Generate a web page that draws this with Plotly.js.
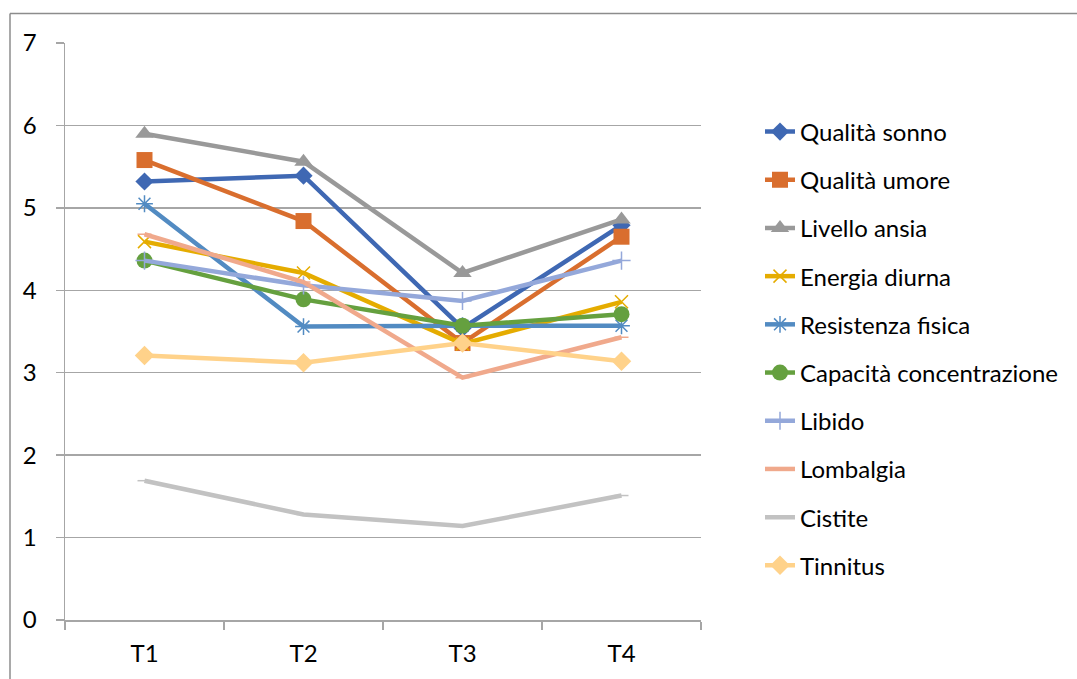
<!DOCTYPE html>
<html>
<head>
<meta charset="utf-8">
<script src="https://cdn.plot.ly/plotly-3.0.1.min.js"></script>
<style>html,body{margin:0;padding:0;background:#fff;}#chart{width:1077px;height:679px;}</style>
</head>
<body>
<div id="chart"></div>
<script>
const categories = ["T1", "T2", "T3", "T4"];
const seriesNames = ["Qualità sonno", "Qualità umore", "Livello ansia", "Energia diurna", "Resistenza fisica", "Capacità concentrazione", "Libido", "Lombalgia", "Cistite", "Tinnitus"];
const qualitaSonno = [5.32, 5.39, 3.54, 4.79];
const qualitaUmore = [5.58, 4.84, 3.36, 4.65];
const livelloAnsia = [5.90, 5.56, 4.21, 4.86];
const energiaDiurna = [4.59, 4.21, 3.35, 3.86];
const resistenzaFisica = [5.05, 3.56, 3.57, 3.57];
const capacitaConcentrazione = [4.36, 3.89, 3.57, 3.71];
const libido = [4.36, 4.06, 3.87, 4.36];
const lombalgia = [4.68, 4.10, 2.94, 3.43];
const cistite = [1.69, 1.28, 1.14, 1.51];
const tinnitus = [3.21, 3.12, 3.36, 3.14];
const yTicks = [0, 1, 2, 3, 4, 5, 6, 7];

const seriesValues = [qualitaSonno, qualitaUmore, livelloAnsia, energiaDiurna, resistenzaFisica, capacitaConcentrazione, libido, lombalgia, cistite, tinnitus];
const colors = ["#3F68B3", "#D96E2E", "#999999", "#E5AC00", "#528BC2", "#65A03F", "#94A8DA", "#F0A98C", "#C2C2C2", "#FFD28A"];
const markers = [
  {symbol: "diamond", size: 14},
  {symbol: "square", size: 16},
  {symbol: "triangle-up", size: 16},
  {symbol: "x-thin", size: 13, open: true},
  {symbol: "asterisk", size: 14, open: true},
  {symbol: "circle", size: 16},
  {symbol: "cross-thin", size: 13, open: true},
  {symbol: "line-ew", size: 10, open: true},
  {symbol: "line-ew", size: 10, open: true},
  {symbol: "diamond", size: 15}
];

const traces = seriesNames.map((name, i) => {
  const m = markers[i];
  const marker = {symbol: m.symbol, size: m.size, color: colors[i]};
  if (m.open) marker.line = {color: colors[i], width: 1.5};
  return {
    type: "scatter",
    mode: "lines+markers",
    name: name,
    x: categories,
    y: seriesValues[i],
    line: {color: colors[i], width: 4.5},
    marker: marker,
    legendgroup: "g" + i
  };
});

const L = 65, R = 701, T = 42.5, B = 620, W = 1077, H = 679;
const pw = R - L, ph = B - T;
const px = v => (v - L) / pw;
const py = v => (B - v) / ph;

const layout = {
  width: W, height: H,
  margin: {l: L, r: W - R, t: T, b: H - B, pad: 0},
  paper_bgcolor: "#ffffff",
  plot_bgcolor: "#ffffff",
  font: {family: "Lato, 'Open Sans', sans-serif", size: 24, color: "#000000"},
  showlegend: true,
  legend: {
    x: px(760), y: py(109), xanchor: "left", yanchor: "top",
    font: {size: 24, color: "#000000"},
    tracegroupgap: 14,
    bgcolor: "rgba(0,0,0,0)"
  },
  xaxis: {
    type: "category",
    range: [-0.5, 3.5],
    showgrid: false,
    showline: true, linecolor: "#A6A6A6", linewidth: 1.5,
    ticks: "outside", ticklen: 8, tickcolor: "#A6A6A6", tickwidth: 1.5,
    tickson: "boundaries",
    ticklabelstandoff: 12,
    tickfont: {size: 24},
    zeroline: false,
    fixedrange: true
  },
  yaxis: {
    range: [0, 7],
    tickvals: yTicks,
    ticktext: yTicks.map(String),
    showgrid: true, gridcolor: "#A6A6A6", gridwidth: 1.5,
    showline: true, linecolor: "#A6A6A6", linewidth: 1.5,
    ticks: "outside", ticklen: 8, tickcolor: "#A6A6A6", tickwidth: 1.5,
    ticklabelstandoff: 14,
    tickfont: {size: 24},
    zeroline: false,
    fixedrange: true
  },
  shapes: [
    {type: "line", xref: "paper", yref: "paper", x0: px(10), x1: px(10), y0: py(13), y1: py(H + 5), line: {color: "#8C8C8C", width: 1.5}},
    {type: "line", xref: "paper", yref: "paper", x0: px(10), x1: px(W + 5), y0: py(13), y1: py(13), line: {color: "#8C8C8C", width: 1.5}}
  ]
};

Plotly.newPlot("chart", traces, layout, {displayModeBar: false, staticPlot: true});
</script>
</body>
</html>
